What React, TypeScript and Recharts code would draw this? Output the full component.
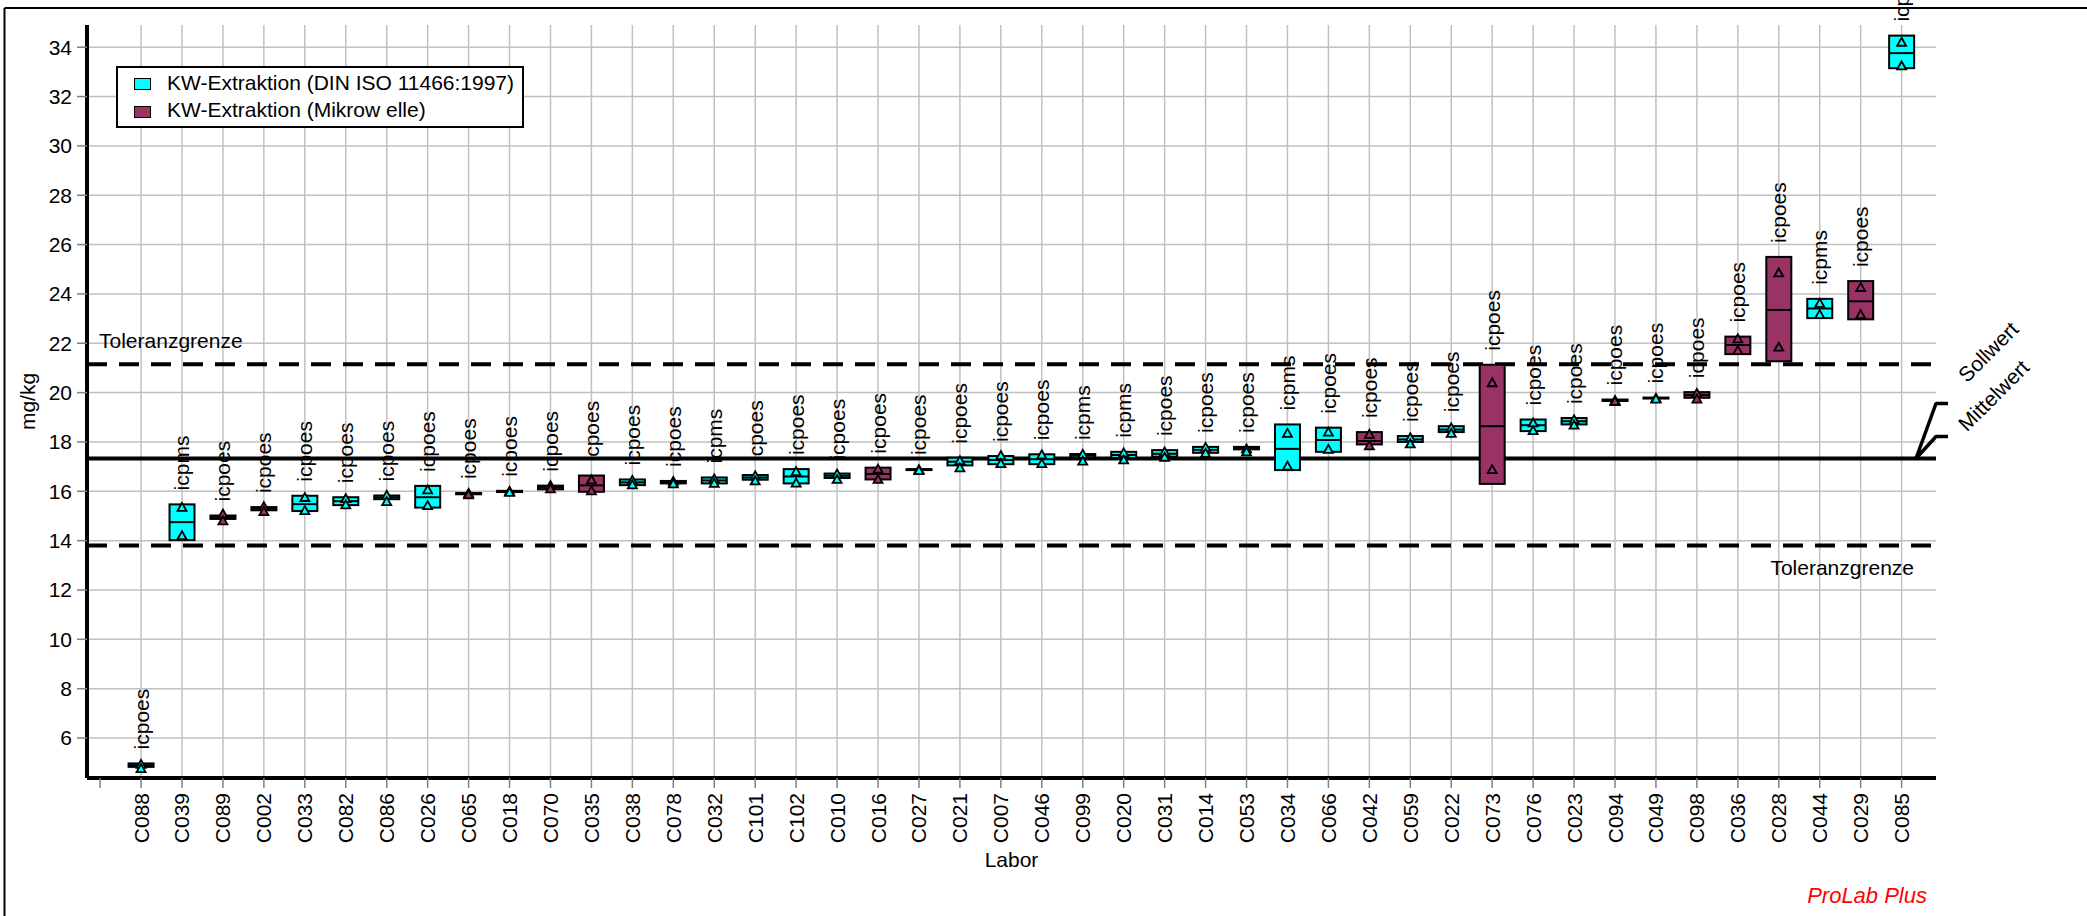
import React from 'react';
import {
  ComposedChart,
  Bar,
  Scatter,
  XAxis,
  YAxis,
  CartesianGrid,
  ReferenceLine,
  Legend,
} from 'recharts';

const W = 2087;
const H = 916;
const FONT = '"Liberation Sans", Arial, Helvetica, sans-serif';
const FS = 21;

// labs in the order of the chart (sorted by mean)
const LABS = [
  'C088', 'C039', 'C089', 'C002', 'C033', 'C082', 'C086', 'C026', 'C065', 'C018', 'C070',
  'C035', 'C038', 'C078', 'C032', 'C101', 'C102', 'C010', 'C016', 'C027', 'C021', 'C007',
  'C046', 'C099', 'C020', 'C031', 'C014', 'C053', 'C034', 'C066', 'C042', 'C059', 'C022',
  'C073', 'C076', 'C023', 'C094', 'C049', 'C098', 'C036', 'C028', 'C044', 'C029', 'C085',
];

const INSTR = [
  'icpoes', 'icpms', 'icpoes', 'icpoes', 'icpoes', 'icpoes', 'icpoes', 'icpoes', 'icpoes', 'icpoes', 'icpoes',
  'icpoes', 'icpoes', 'icpoes', 'icpms', 'icpoes', 'icpoes', 'icpoes', 'icpoes', 'icpoes', 'icpoes', 'icpoes',
  'icpoes', 'icpms', 'icpms', 'icpoes', 'icpoes', 'icpoes', 'icpms', 'icpoes', 'icpoes', 'icpoes', 'icpoes',
  'icpoes', 'icpoes', 'icpoes', 'icpoes', 'icpoes', 'icpoes', 'icpoes', 'icpoes', 'icpms', 'icpoes', 'icpoes',
];

// 0 = DIN ISO 11466, 1 = Mikrowelle
const METHOD = [
  0, 0, 1, 1, 0, 0, 0, 0, 1, 0, 1,
  1, 0, 0, 0, 0, 0, 0, 1, 0, 0, 0,
  0, 0, 0, 0, 0, 0, 0, 0, 1, 0, 0,
  1, 0, 0, 1, 0, 1, 1, 1, 0, 1, 0,
];

const LOW = [
  4.83, 14.02, 14.88, 15.23, 15.2, 15.44, 15.68, 15.34, 15.88, 15.97, 16.08,
  15.98, 16.25, 16.32, 16.32, 16.47, 16.32, 16.54, 16.48, 16.86, 17.05, 17.1,
  17.1, 17.36, 17.35, 17.4, 17.56, 17.7, 16.86, 17.6, 17.9, 18.0, 18.4,
  16.3, 18.44, 18.71, 19.66, 19.76, 19.79, 21.56, 21.27, 23.02, 22.97, 33.15,
];
const HIGH = [
  4.97, 15.47, 15.02, 15.36, 15.82, 15.76, 15.83, 16.22, 15.93, 16.02, 16.23,
  16.64, 16.48, 16.42, 16.56, 16.66, 16.9, 16.72, 16.96, 16.9, 17.36, 17.43,
  17.5, 17.51, 17.6, 17.67, 17.8, 17.8, 18.71, 18.58, 18.4, 18.24, 18.64,
  21.13, 18.91, 18.97, 19.72, 19.8, 20.02, 22.27, 25.5, 23.8, 24.52, 34.47,
];
const MEDIAN = [
  4.9, 14.75, 14.95, 15.3, 15.48, 15.6, 15.76, 15.76, 15.9, 16.0, 16.16,
  16.24, 16.36, 16.37, 16.44, 16.56, 16.6, 16.63, 16.7, 16.88, 17.2, 17.27,
  17.3, 17.44, 17.47, 17.52, 17.68, 17.75, 17.72, 18.08, 18.04, 18.1, 18.5,
  18.64, 18.68, 18.84, 19.69, 19.78, 19.9, 21.93, 23.35, 23.41, 23.7, 33.76,
];
const VAL1 = [
  4.93, 15.35, 15.08, 15.38, 15.75, 15.7, 15.84, 16.06, 15.92, 16.0, 16.23,
  16.46, 16.44, 16.4, 16.5, 16.63, 16.8, 16.7, 16.9, 16.88, 17.24, 17.45,
  17.48, 17.5, 17.56, 17.6, 17.78, 17.72, 18.35, 18.4, 18.31, 18.17, 18.57,
  20.4, 18.77, 18.9, 19.68, 19.77, 19.97, 22.18, 24.85, 23.62, 24.26, 34.2,
];
const VAL2 = [
  4.76, 14.2, 14.8, 15.18, 15.22, 15.45, 15.58, 15.42, 15.86, 15.96, 16.1,
  16.02, 16.26, 16.3, 16.32, 16.42, 16.33, 16.48, 16.48, 16.84, 16.95, 17.12,
  17.12, 17.22, 17.27, 17.38, 17.54, 17.6, 17.02, 17.7, 17.84, 17.92, 18.35,
  16.88, 18.46, 18.68, 19.64, 19.74, 19.74, 21.7, 21.84, 23.16, 23.16, 33.24,
];

const UPPER_LIMIT = 21.15;
const LOWER_LIMIT = 13.8;
const ASSIGNED = 17.33;

const Y_TICKS = [6, 8, 10, 12, 14, 16, 18, 20, 22, 24, 26, 28, 30, 32, 34];
const Y_DOMAIN: [number, number] = [4.38, 34.9];
const X_DOMAIN: [number, number] = [-0.32, 44.84];

const SERIES = [
  { name: 'KW-Extraktion (DIN ISO 11466:1997)', color: '#00FFFF' },
  { name: 'KW-Extraktion (Mikrow elle)', color: '#993366' },
];

const rows = LABS.map((lab, i) => ({
  x: i + 1,
  lab,
  instr: INSTR[i],
  method: METHOD[i],
  range: [LOW[i], HIGH[i]],
  lo: LOW[i],
  hi: HIGH[i],
  med: MEDIAN[i],
  v1: VAL1[i],
  v2: VAL2[i],
}));

const X_TICKS = [0, ...rows.map((r) => r.x)];
const GRID_X = rows.map((r) => r.x);

function BoxShape(props: any) {
  const { x, y, width, height } = props;
  const p = props.payload ?? rows[props.index];
  if (x == null || y == null || !p) return null;
  const my = p.hi > p.lo ? y + (height * (p.hi - p.med)) / (p.hi - p.lo) : y;
  return (
    <g>
      <rect
        x={x}
        y={y}
        width={width}
        height={Math.max(height, 0.6)}
        fill={SERIES[p.method].color}
        stroke="#000"
        strokeWidth={2}
      />
      <line x1={x} x2={x + width} y1={my} y2={my} stroke="#000" strokeWidth={2} />
    </g>
  );
}

function Tri(props: any) {
  const { cx, cy, payload } = props;
  if (cx == null || cy == null) return null;
  return (
    <path
      d={`M${cx},${cy - 4.5}L${cx + 4.5},${cy + 3.5}L${cx - 4.5},${cy + 3.5}Z`}
      fill={SERIES[payload.method].color}
      stroke="#000"
      strokeWidth={1.8}
    />
  );
}

// instrument text above each box
function InstrLabel(props: any) {
  const { cx, cy, payload } = props;
  if (cx == null || cy == null) return null;
  const ty = cy - 14;
  return (
    <text
      x={cx}
      y={ty}
      transform={`rotate(-90 ${cx} ${ty})`}
      textAnchor="start"
      dominantBaseline="central"
      fontSize={FS}
      fill="#000"
    >
      {payload.instr}
    </text>
  );
}

function XTick(props: any) {
  const { x, y, payload } = props;
  const lab = payload.value === 0 ? '' : LABS[payload.value - 1];
  return (
    <text
      x={x}
      y={y}
      transform={`rotate(-90 ${x} ${y})`}
      textAnchor="end"
      dominantBaseline="central"
      fontSize={FS}
      fill="#000"
    >
      {lab}
    </text>
  );
}

function UpperTag(props: any) {
  const vb = props.viewBox;
  if (!vb) return null;
  return (
    <text x={vb.x + 12} y={vb.y - 16} fontSize={FS} fill="#000">
      Toleranzgrenze
    </text>
  );
}

function LowerTag(props: any) {
  const vb = props.viewBox;
  if (!vb) return null;
  return (
    <text x={vb.x + vb.width - 22} y={vb.y + 29} textAnchor="end" fontSize={FS} fill="#000">
      Toleranzgrenze
    </text>
  );
}

function MeanTag(props: any) {
  const vb = props.viewBox;
  if (!vb) return null;
  const r = vb.x + vb.width;
  const y = vb.y;
  return (
    <g>
      <polyline
        points={`${r + 12},${y - 55} ${r},${y - 55} ${r - 20},${y} ${r},${y - 22} ${r + 12},${y - 22}`}
        fill="none"
        stroke="#000"
        strokeWidth={3.5}
        strokeLinejoin="bevel"
      />
      <text x={r + 31} y={y - 75} transform={`rotate(-45 ${r + 31} ${y - 75})`} fontSize={FS} fill="#000">
        Sollwert
      </text>
      <text x={r + 31} y={y - 26} transform={`rotate(-45 ${r + 31} ${y - 26})`} fontSize={FS} fill="#000">
        Mittelwert
      </text>
    </g>
  );
}

function YTitle(props: any) {
  const vb = props.viewBox;
  if (!vb) return null;
  const cx = vb.x + 8;
  const cy = vb.y + vb.height / 2;
  return (
    <text x={cx} y={cy} transform={`rotate(-90 ${cx} ${cy})`} textAnchor="middle" fontSize={FS} fill="#000">
      mg/kg
    </text>
  );
}

function XTitle(props: any) {
  const vb = props.viewBox;
  if (!vb) return null;
  return (
    <text x={vb.x + vb.width / 2} y={vb.y + 89} textAnchor="middle" fontSize={FS} fill="#000">
      Labor
    </text>
  );
}

function LegendBox() {
  return (
    <div
      style={{
        position: 'relative',
        width: 408,
        height: 62,
        border: '2px solid #000',
        boxSizing: 'border-box',
        background: '#fff',
        fontFamily: FONT,
        fontSize: FS,
        lineHeight: `${FS}px`,
        color: '#000',
      }}
    >
      {SERIES.map((s, i) => (
        <React.Fragment key={s.name}>
          <div
            style={{
              position: 'absolute',
              left: 16,
              top: 10 + i * 28,
              width: 17,
              height: 12,
              background: s.color,
              border: '1.5px solid #000',
              boxSizing: 'border-box',
            }}
          />
          <div style={{ position: 'absolute', left: 49, top: 3.5 + i * 27.5, whiteSpace: 'nowrap' }}>
            {s.name}
          </div>
        </React.Fragment>
      ))}
    </div>
  );
}

export default function App() {
  return (
    <div
      style={{
        position: 'absolute',
        left: 0,
        top: 0,
        width: W,
        height: H,
        background: '#fff',
        fontFamily: FONT,
      }}
    >
      <ComposedChart
        width={W}
        height={H}
        data={rows}
        margin={{ top: 25, right: 151, bottom: 78, left: 27 }}
      >
        <CartesianGrid
          stroke="#c0c0c0"
          strokeWidth={1.5}
          horizontalValues={Y_TICKS}
          verticalValues={GRID_X}
        />
        <XAxis
          type="number"
          dataKey="x"
          domain={X_DOMAIN}
          ticks={X_TICKS}
          interval={0}
          height={60}
          tickSize={10}
          tickMargin={5}
          tick={<XTick />}
          tickLine={{ stroke: '#808080', strokeWidth: 1.5 }}
          axisLine={{ stroke: '#000', strokeWidth: 4 }}
          label={{ content: XTitle }}
        />
        <XAxis
          xAxisId="top"
          orientation="top"
          type="number"
          domain={X_DOMAIN}
          height={0}
          tick={false}
          tickLine={false}
          axisLine={{ stroke: '#000', strokeWidth: 2 }}
        />
        <YAxis
          type="number"
          domain={Y_DOMAIN}
          ticks={Y_TICKS}
          interval={0}
          width={60}
          tickSize={10}
          tickMargin={5}
          tick={{ fontSize: FS, fill: '#000' }}
          tickLine={{ stroke: '#808080', strokeWidth: 1.5 }}
          axisLine={{ stroke: '#000', strokeWidth: 4 }}
          label={{ content: YTitle }}
        />
        <YAxis
          yAxisId="right"
          orientation="right"
          type="number"
          domain={Y_DOMAIN}
          width={0}
          tick={false}
          tickLine={false}
          axisLine={{ stroke: '#000', strokeWidth: 2 }}
        />
        <Legend
          layout="vertical"
          align="center"
          verticalAlign="middle"
          wrapperStyle={{ left: 116, top: 66, width: 408, height: 62 }}
          content={<LegendBox />}
        />
        <Scatter
          dataKey="hi"
          shape={InstrLabel}
          legendType="none"
          isAnimationActive={false}
          zIndex={260}
        />
        <ReferenceLine
          y={UPPER_LIMIT}
          stroke="#000"
          strokeWidth={4}
          strokeDasharray="20 12"
          zIndex={280}
          label={{ content: UpperTag }}
        />
        <ReferenceLine
          y={LOWER_LIMIT}
          stroke="#000"
          strokeWidth={4}
          strokeDasharray="20 12"
          zIndex={280}
          label={{ content: LowerTag }}
        />
        <ReferenceLine
          y={ASSIGNED}
          stroke="#000"
          strokeWidth={4}
          zIndex={280}
          label={{ content: MeanTag }}
        />
        <Bar dataKey="range" barSize={25} shape={BoxShape} isAnimationActive={false} />
        <Scatter dataKey="v1" shape={Tri} isAnimationActive={false} />
        <Scatter dataKey="v2" shape={Tri} isAnimationActive={false} />
      </ComposedChart>
      <svg
        width={W}
        height={H}
        style={{ position: 'absolute', left: 0, top: 0, pointerEvents: 'none' }}
      >
        <line x1={4.5} y1={8} x2={W} y2={8} stroke="#000" strokeWidth={2} />
        <line x1={4.5} y1={8} x2={4.5} y2={H} stroke="#000" strokeWidth={2} />
        <text x={1927} y={903} textAnchor="end" fill="#FF0000" fontStyle="italic" fontSize={22}>
          ProLab Plus
        </text>
      </svg>
    </div>
  );
}
